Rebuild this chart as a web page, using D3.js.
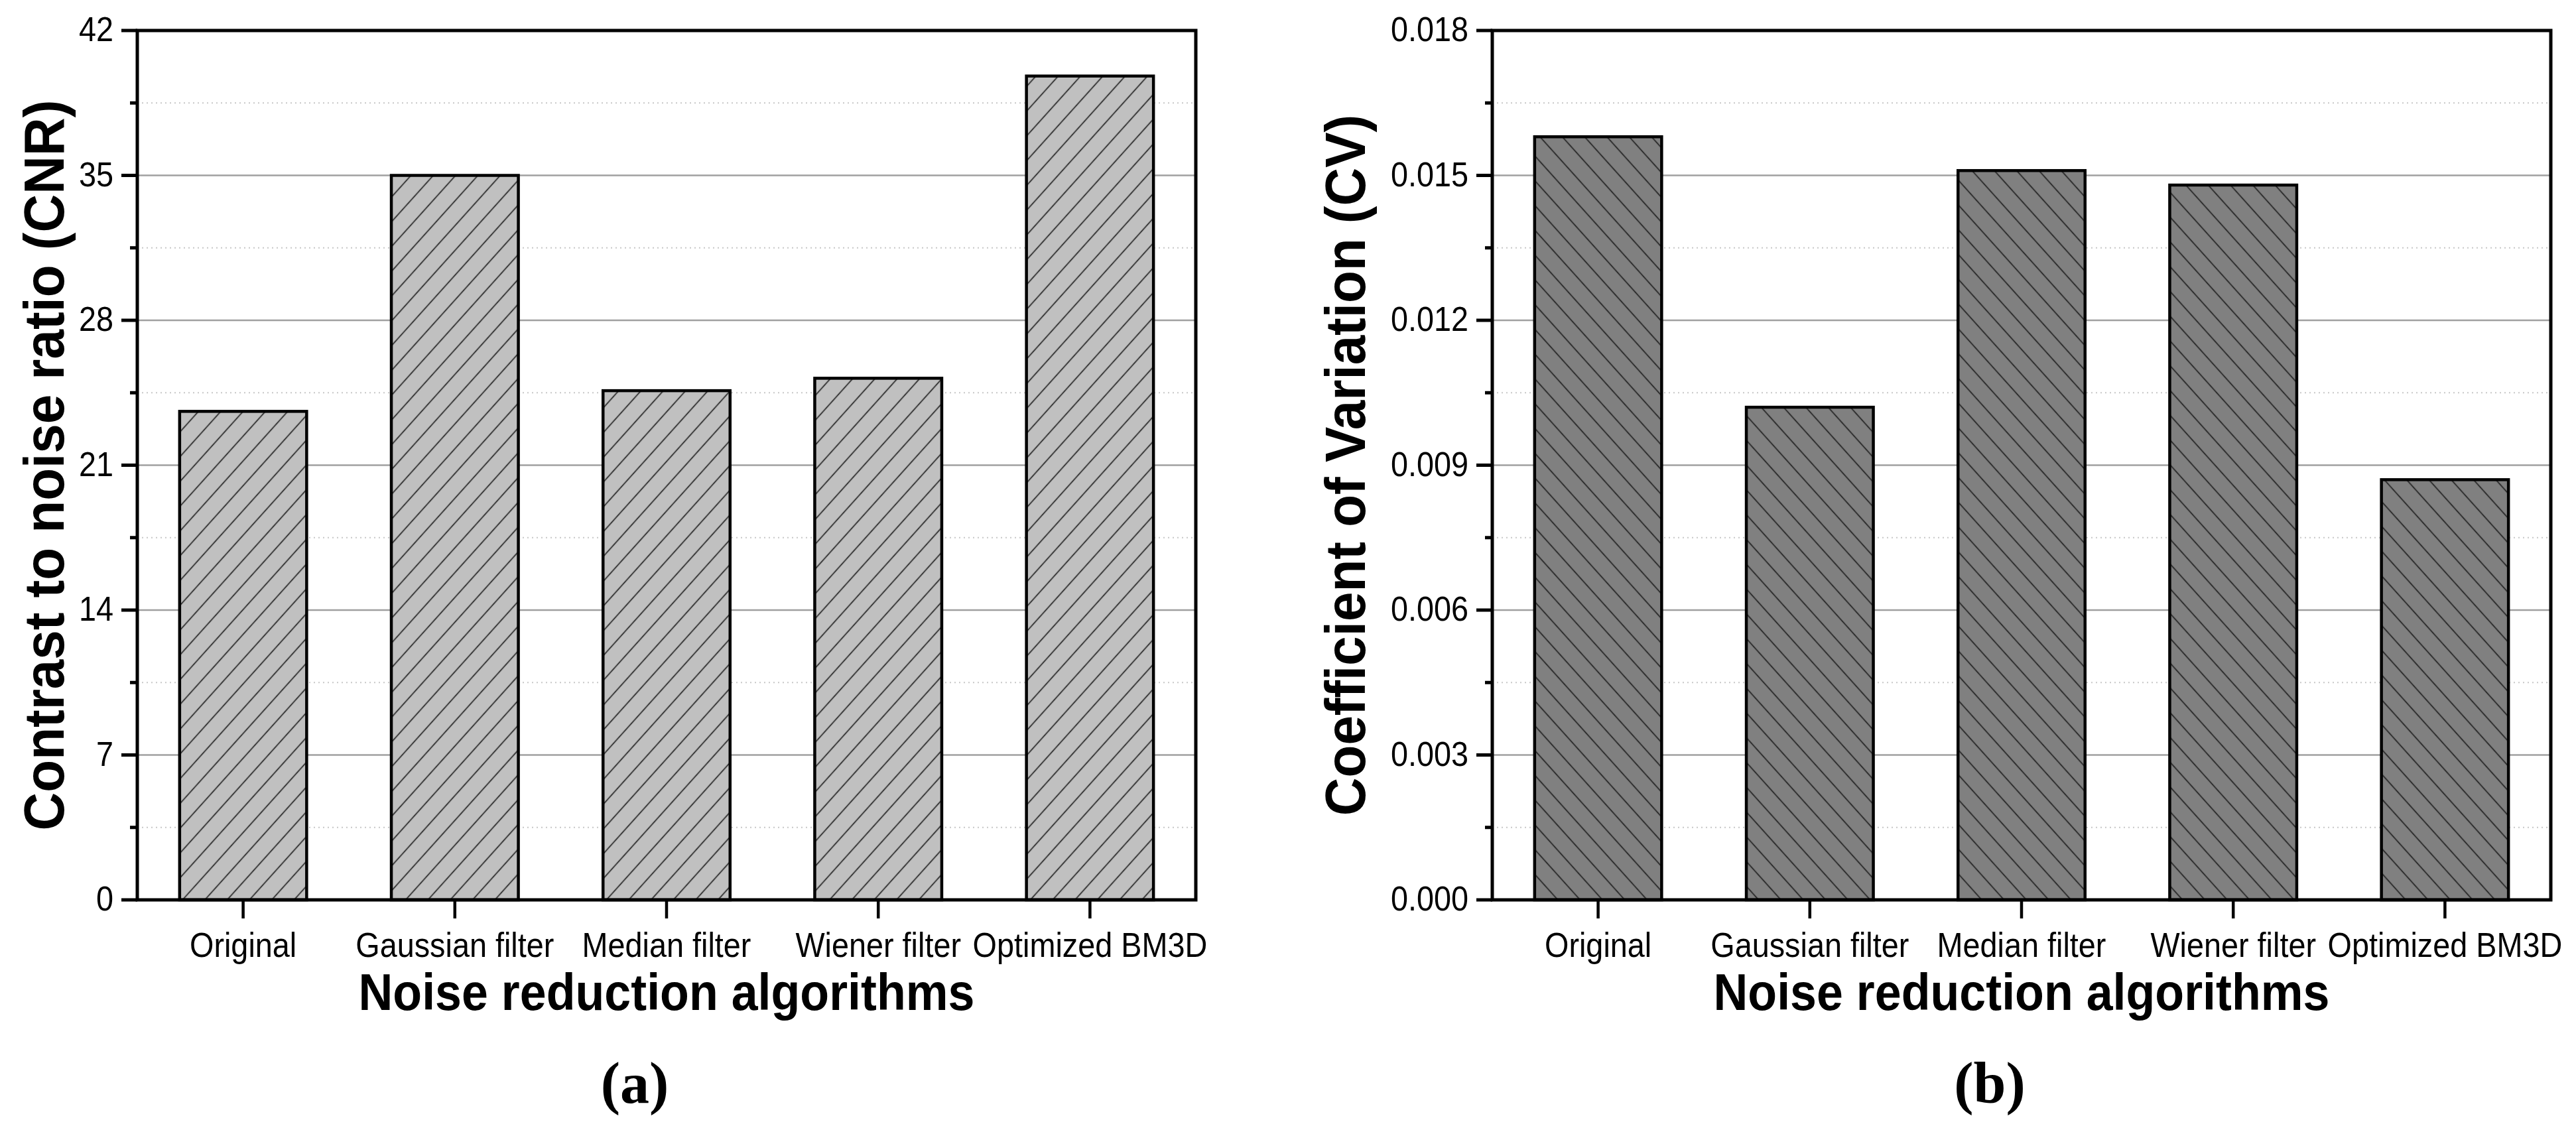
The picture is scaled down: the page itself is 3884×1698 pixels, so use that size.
<!DOCTYPE html>
<html>
<head>
<meta charset="utf-8">
<script src="https://cdn.jsdelivr.net/npm/d3@7"></script>
<style>
  html, body { margin: 0; padding: 0; background: #fff; }
  svg { display: block; }
</style>
</head>
<body>
<div id="chart"></div>
<script>
// ---------------- data ----------------
const categories = ["Original", "Gaussian filter", "Median filter", "Wiener filter", "Optimized BM3D"];
const cnrValues = [23.6, 35.0, 24.6, 25.2, 39.8];
const cvValues = [0.0158, 0.0102, 0.0151, 0.0148, 0.0087];
const cnrTicks = [0, 7, 14, 21, 28, 35, 42];
const cnrTickLabels = ["0", "7", "14", "21", "28", "35", "42"];
const cvTicks = [0, 0.003, 0.006, 0.009, 0.012, 0.015, 0.018];
const cvTickLabels = ["0.000", "0.003", "0.006", "0.009", "0.012", "0.015", "0.018"];
const xTitle = "Noise reduction algorithms";
const cnrTitle = "Contrast to noise ratio (CNR)";
const cvTitle = "Coefficient of Variation (CV)";
const panelLabels = ["(a)", "(b)"];

// ---------------- layout ----------------
const W = 3884, H = 1698;
const plotTop = 46, plotBottom = 1357;
const svg = d3.select("#chart").append("svg").attr("width", W).attr("height", H);
const defs = svg.append("defs");

function hatch(id, fill, angle) {
  const d = 25;
  const p = defs.append("pattern").attr("id", id)
    .attr("patternUnits", "userSpaceOnUse")
    .attr("width", d).attr("height", d)
    .attr("patternTransform", `rotate(${angle})`);
  p.append("rect").attr("width", d).attr("height", d).attr("fill", fill);
  p.append("line").attr("x1", d / 2).attr("x2", d / 2).attr("y1", -1).attr("y2", d + 1)
    .attr("stroke", "#1a1a1a").attr("stroke-width", 1.6);
}
hatch("hatchA", "#c0c0c0", 42);
hatch("hatchB", "#808080", -42);

const SANS = "'Liberation Sans', Arial, sans-serif";

function panel(cfg) {
  const g = svg.append("g");
  const x = d3.scaleBand().domain(categories).range([cfg.left, cfg.right])
    .paddingInner(0.4).paddingOuter(0.2);
  const y = d3.scaleLinear().domain([0, cfg.max]).range([plotBottom, plotTop]);
  const step = cfg.ticks[1] - cfg.ticks[0];
  const minor = cfg.ticks.slice(0, -1).map(t => t + step / 2);

  g.selectAll(".mgrid").data(minor).join("line")
    .attr("x1", cfg.left).attr("x2", cfg.right)
    .attr("y1", d => y(d)).attr("y2", d => y(d))
    .attr("stroke", "#c8c8c8").attr("stroke-width", 2)
    .attr("stroke-dasharray", "2,5");
  g.selectAll(".grid").data(cfg.ticks.slice(1, -1)).join("line")
    .attr("x1", cfg.left).attr("x2", cfg.right)
    .attr("y1", d => y(d)).attr("y2", d => y(d))
    .attr("stroke", "#a0a0a0").attr("stroke-width", 2.5);

  g.selectAll(".bar").data(cfg.values).join("rect")
    .attr("x", (d, i) => x(categories[i]))
    .attr("width", x.bandwidth())
    .attr("y", d => y(d))
    .attr("height", d => y(0) - y(d))
    .attr("fill", `url(#${cfg.pattern})`)
    .attr("stroke", "#000").attr("stroke-width", 4.5);

  g.append("rect").attr("x", cfg.left).attr("y", plotTop)
    .attr("width", cfg.right - cfg.left).attr("height", plotBottom - plotTop)
    .attr("fill", "none").attr("stroke", "#000").attr("stroke-width", 5);

  g.selectAll(".yt").data(cfg.ticks).join("line")
    .attr("x1", cfg.left - 24).attr("x2", cfg.left)
    .attr("y1", d => y(d)).attr("y2", d => y(d))
    .attr("stroke", "#000").attr("stroke-width", 5);
  g.selectAll(".ymt").data(minor).join("line")
    .attr("x1", cfg.left - 11).attr("x2", cfg.left)
    .attr("y1", d => y(d)).attr("y2", d => y(d))
    .attr("stroke", "#000").attr("stroke-width", 5);
  g.selectAll(".yl").data(cfg.ticks).join("text")
    .attr("transform", d => `translate(${cfg.left - 36},${y(d) + 16}) scale(0.9,1)`)
    .attr("text-anchor", "end")
    .attr("font-family", SANS).attr("font-size", 52)
    .text((d, i) => cfg.labels[i]);

  g.selectAll(".xt").data(categories).join("line")
    .attr("x1", d => x(d) + x.bandwidth() / 2).attr("x2", d => x(d) + x.bandwidth() / 2)
    .attr("y1", plotBottom).attr("y2", plotBottom + 28)
    .attr("stroke", "#000").attr("stroke-width", 4.5);
  g.selectAll(".xl").data(categories).join("text")
    .attr("transform", d => `translate(${x(d) + x.bandwidth() / 2},1443) scale(0.9,1)`)
    .attr("text-anchor", "middle")
    .attr("font-family", SANS).attr("font-size", 52)
    .text(d => d);

  const cx = (cfg.left + cfg.right) / 2;
  g.append("text")
    .attr("transform", `translate(${cx},1523) scale(0.92,1)`)
    .attr("text-anchor", "middle")
    .attr("font-family", SANS).attr("font-weight", "bold").attr("font-size", 78)
    .text(xTitle);
  g.append("text")
    .attr("transform", `translate(${cfg.titleX},${(plotTop + plotBottom) / 2}) rotate(-90) scale(0.93,1)`)
    .attr("text-anchor", "middle")
    .attr("font-family", SANS).attr("font-weight", "bold").attr("font-size", 86)
    .text(cfg.title);
  g.append("text")
    .attr("x", cx - 48).attr("y", 1663)
    .attr("text-anchor", "middle")
    .attr("font-family", "'Liberation Serif', 'Times New Roman', serif")
    .attr("font-weight", "bold").attr("font-size", 88)
    .text(cfg.panel);
}

panel({ left: 207, right: 1803, max: 42, ticks: cnrTicks, labels: cnrTickLabels,
        values: cnrValues, pattern: "hatchA", title: cnrTitle, titleX: 96, panel: panelLabels[0] });
panel({ left: 2250, right: 3846, max: 0.018, ticks: cvTicks, labels: cvTickLabels,
        values: cvValues, pattern: "hatchB", title: cvTitle, titleX: 2058, panel: panelLabels[1] });
</script>
</body>
</html>
